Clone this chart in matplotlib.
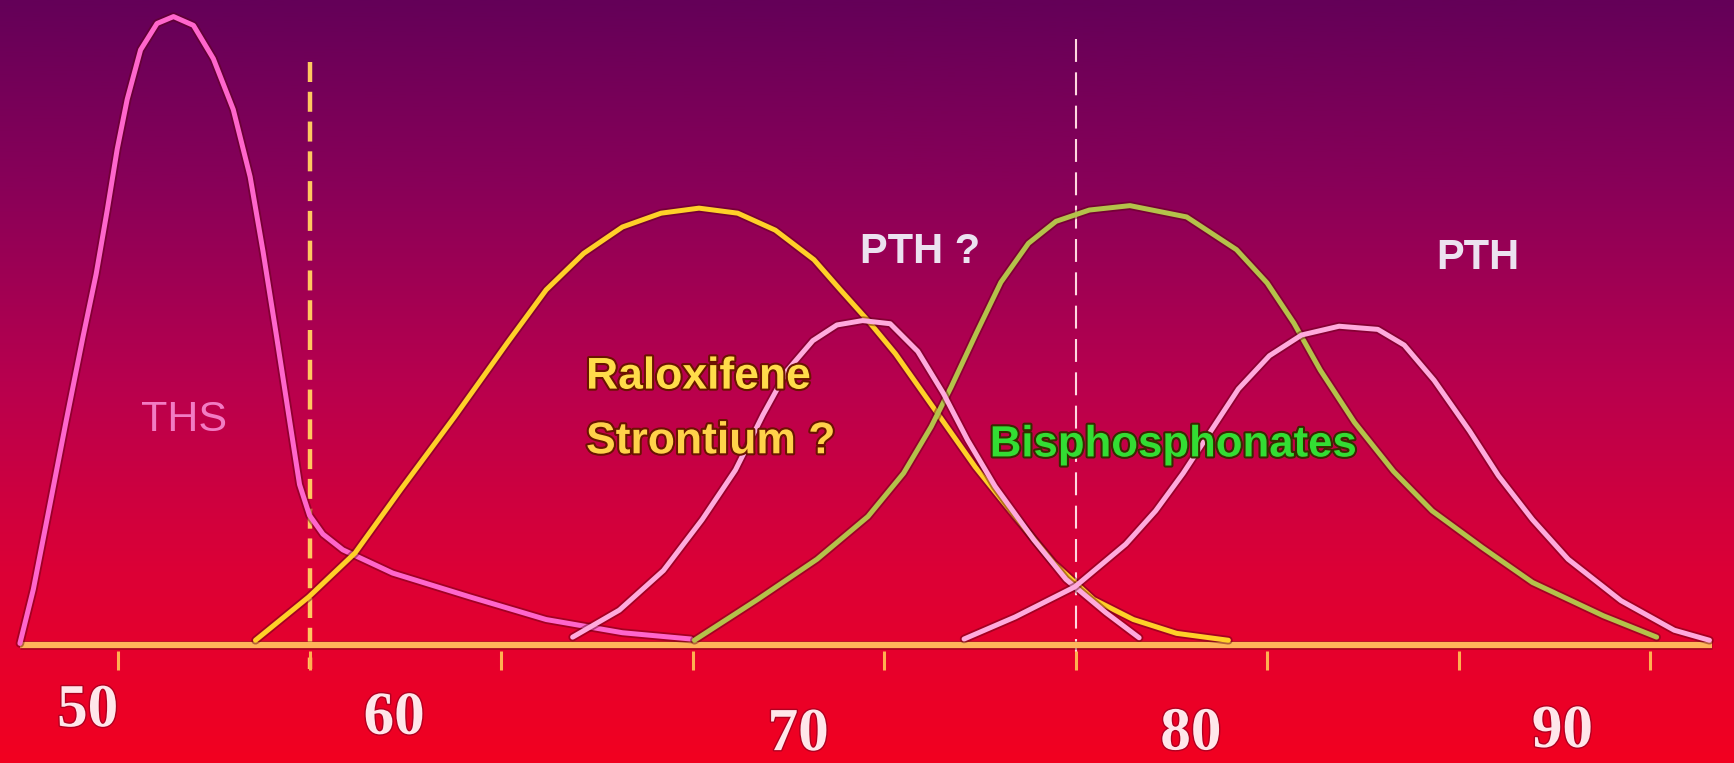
import numpy as np
import matplotlib
matplotlib.use("Agg")
import matplotlib.pyplot as plt
import matplotlib.patheffects as pe
from matplotlib.colors import LinearSegmentedColormap

# age (x) / relative height (y)
ths_age = [47.43, 47.78, 48.21, 48.64, 49.08, 49.42, 49.71, 49.97, 50.23, 50.58, 51.01, 51.44,
           51.96, 52.48, 53.00, 53.44, 53.78, 54.13, 54.47, 54.73, 54.99, 55.34, 55.86,
           57.16, 59.18, 61.17, 63.16, 64.95]
ths_val = [0.2, 8.8, 22.2, 35.7, 49.1, 59.0, 69.2, 78.9, 86.8, 94.7, 98.9, 100,
           98.6, 93.3, 85.2, 74.5, 62.5, 49.1, 35.7, 25.5, 20.6, 17.6, 15.1,
           11.4, 7.6, 4.0, 1.9, 0.9]

ralox_age = [53.58, 54.97, 56.18, 57.36, 58.78, 60.16, 61.17, 62.15, 63.16, 64.17, 65.16, 66.17,
             67.15, 68.16, 68.85, 69.57, 70.29, 71.33, 72.37, 73.41, 74.42, 75.46, 76.50,
             77.63, 78.98]
ralox_val = [0.7, 7.6, 14.6, 24.6, 36.3, 48.1, 56.5, 62.3, 66.5, 68.7, 69.5, 68.7,
             66.0, 61.3, 56.5, 51.6, 46.3, 37.3, 28.3, 20.4, 13.0, 7.2, 4.0,
             1.8, 0.7]

pthq_age = [61.86, 63.08, 64.23, 65.24, 66.11, 66.83, 67.47, 68.13, 68.76, 69.43,
            70.15, 70.87, 71.54, 72.17, 72.89, 73.90, 74.74, 75.78, 76.65]
pthq_val = [1.2, 5.5, 11.8, 19.9, 27.8, 36.6, 43.7, 48.4, 50.9, 51.6,
            51.1, 46.7, 40.0, 32.6, 25.2, 16.7, 10.4, 5.1, 1.1]

bisph_age = [65.04, 66.69, 68.24, 69.57, 70.50, 71.22, 71.74, 72.40, 73.04, 73.76, 74.48,
             75.35, 76.41, 77.89, 79.19, 79.99, 80.69, 81.38, 82.27, 83.29, 84.30,
             85.60, 86.92, 88.77, 90.16]
bisph_val = [0.7, 7.2, 13.6, 20.4, 27.3, 34.7, 41.0, 49.6, 57.7, 63.9, 67.4,
             69.2, 69.9, 68.1, 62.9, 57.6, 51.2, 43.7, 35.4, 27.6, 21.3,
             15.5, 9.9, 4.6, 1.2]

pth_age = [72.08, 73.41, 74.97, 76.30, 77.08, 77.80, 78.52, 79.24, 80.05, 80.89, 81.87,
           82.88, 83.57, 84.35, 85.28, 86.03, 86.92, 87.85, 89.23, 90.62, 91.54]
pth_val = [0.9, 4.4, 9.2, 16.0, 21.3, 27.3, 34.0, 40.7, 46.0, 49.3, 50.7,
           50.2, 47.7, 42.1, 34.0, 26.9, 19.9, 13.6, 7.0, 2.3, 0.7]

tick_ages = [50, 55, 60, 65, 70, 75, 80, 85, 90]
tick_labels = ["50", "60", "70", "80", "90"]
tick_label_x = [49.2, 57.2, 67.75, 78.0, 87.7]
tick_label_y = [-10.6, -11.8, -14.4, -14.3, -13.9]
cutoff_ages = [55, 75]

fig = plt.figure(figsize=(17.34, 7.63), dpi=100)
ax = fig.add_axes([0, 0, 1, 1])
ax.set_xlim(46.91, 92.18)
ax.set_ylim(-18.84, 102.64)
ax.axis("off")

# purple (top) -> red (bottom) background
bg = LinearSegmentedColormap.from_list(
    "bg", ["#640058", "#8a0058", "#b8004e", "#dc0036", "#f20020"])
grad = np.linspace(0, 1, 256).reshape(-1, 1)
ax.imshow(grad, cmap=bg, aspect="auto", extent=[0, 1, 0, 1],
          origin="upper", transform=ax.transAxes, zorder=0)

shadow = [pe.Stroke(linewidth=6.2, foreground="#5a0010", alpha=0.45), pe.Normal()]

# baseline axis and ticks
ax.plot([47.43, 91.6], [0, 0], color="#ffb45a", lw=4.5, zorder=5,
        solid_capstyle="butt", path_effects=shadow)
ax.vlines(tick_ages, -4.0, -1.0, color="#ffb050", lw=2.2, zorder=4)

# dashed cut-off lines
ax.plot([cutoff_ages[0]] * 2, [92.8, -3.9], color="#ffc860", lw=3.2,
        dashes=(4.5, 2.2), zorder=3)
ax.plot([cutoff_ages[1]] * 2, [96.5, -1.2], color="#ffd8e0", lw=1.5,
        dashes=(11, 5), zorder=3)

curve_kw = dict(lw=3.6, solid_joinstyle="round", solid_capstyle="round",
                path_effects=shadow)
ax.plot(ths_age, ths_val, color="#ff66cc", zorder=6, **curve_kw)
ax.plot(ralox_age, ralox_val, color="#ffd028", zorder=7, **curve_kw)
ax.plot(pthq_age, pthq_val, color="#ffaadd", zorder=8, **curve_kw)
ax.plot(bisph_age, bisph_val, color="#b4c24a", zorder=7, **curve_kw)
ax.plot(pth_age, pth_val, color="#ffaadd", zorder=8, **curve_kw)

# labels
sans = "Liberation Sans"
dark = [pe.withStroke(linewidth=3, foreground="#6a1400")]
ax.text(51.72, 35.7, "THS", color="#f27cc4", fontsize=31, family=sans,
        ha="center", va="center", zorder=9)
ax.text(70.93, 62.5, "PTH ?", color="#ece2f0", fontsize=30, family=sans,
        fontweight="bold", ha="center", va="center", zorder=9)
ax.text(85.48, 61.6, "PTH", color="#ece2f0", fontsize=30, family=sans,
        fontweight="bold", ha="center", va="center", zorder=9)
ax.text(62.21, 42.6, "Raloxifene", color="#ffdc4a", fontsize=32, family=sans,
        fontweight="bold", ha="left", va="center", zorder=9, path_effects=dark)
ax.text(62.21, 32.3, "Strontium ?", color="#ffd24a", fontsize=32, family=sans,
        fontweight="bold", ha="left", va="center", zorder=9, path_effects=dark)
ax.text(72.75, 31.8, "Bisphosphonates", color="#33dd33", fontsize=31.5, family=sans,
        fontweight="bold", ha="left", va="center", zorder=9,
        path_effects=[pe.withStroke(linewidth=3, foreground="#3a2a00")])

for lab, x, y in zip(tick_labels, tick_label_x, tick_label_y):
    ax.text(x, y, lab, color="#ffe6ea", fontsize=44, family="Liberation Serif",
            fontweight="bold", ha="center", va="center", zorder=9,
            path_effects=[pe.withStroke(linewidth=2, foreground="#b00020")])

fig.savefig("out.png", dpi=100)
